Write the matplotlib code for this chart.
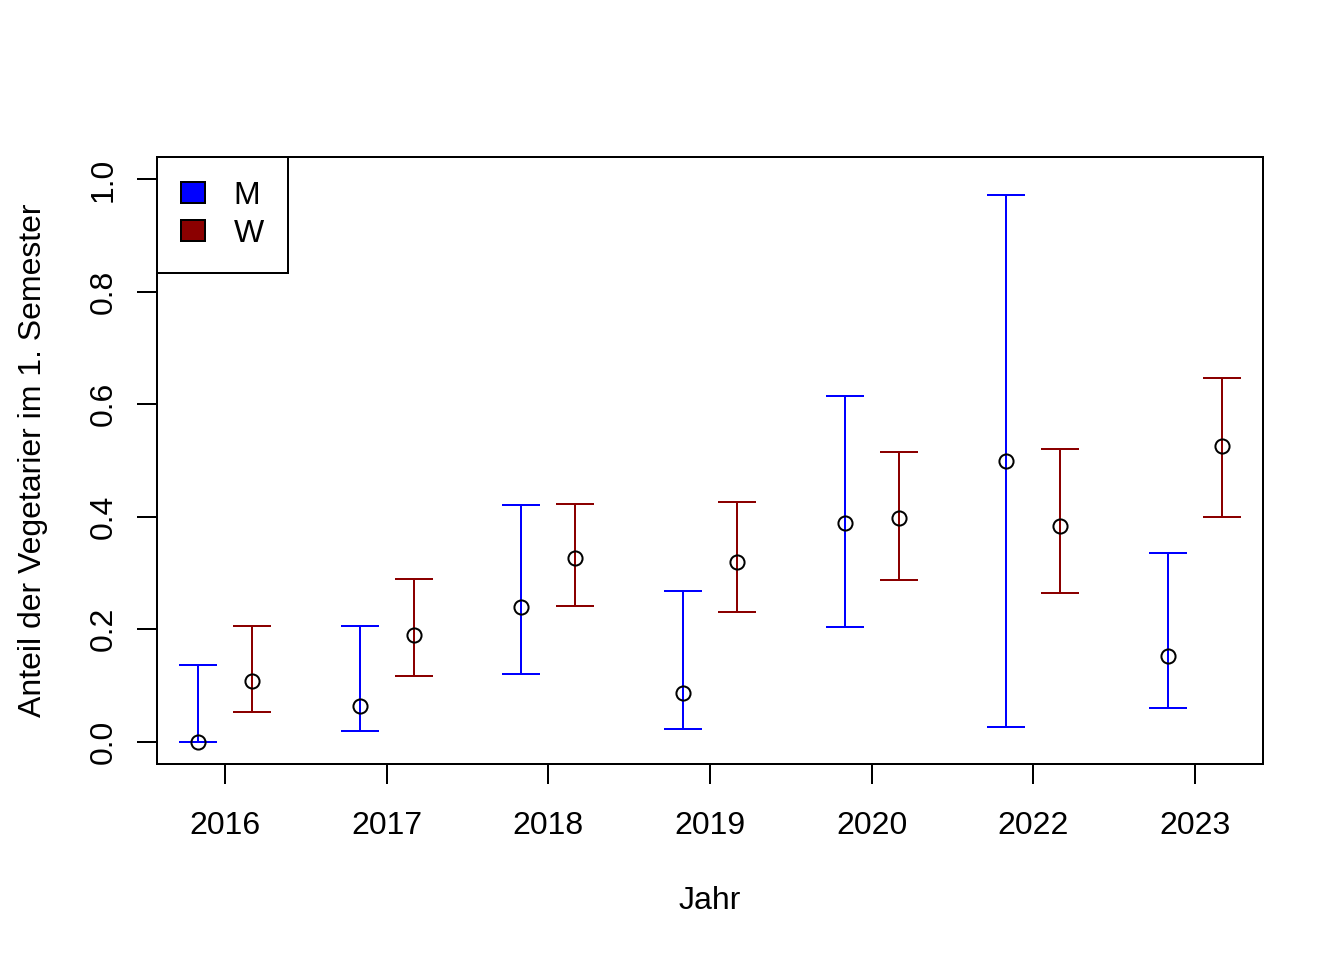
import matplotlib.pyplot as plt
from matplotlib.patches import Patch

plt.rcParams['font.family'] = ['Liberation Sans', 'DejaVu Sans']

# Jahre und Anteile (Punktschaetzer + Konfidenzintervall)
years = ['2016', '2017', '2018', '2019', '2020', '2022', '2023']

m_est = [0.000, 0.064, 0.240, 0.087, 0.388, 0.500, 0.153]
m_low = [0.000, 0.018, 0.121, 0.023, 0.203, 0.025, 0.060]
m_up = [0.137, 0.206, 0.420, 0.267, 0.614, 0.973, 0.335]

w_est = [0.107, 0.189, 0.326, 0.320, 0.397, 0.384, 0.525]
w_low = [0.053, 0.117, 0.242, 0.231, 0.288, 0.265, 0.400]
w_up = [0.206, 0.290, 0.423, 0.427, 0.516, 0.520, 0.646]

col_m = 'blue'
col_w = '#8B0000'

fig = plt.figure(figsize=(7, 5), dpi=192)
ax = fig.add_axes([157/1344, 1-764/960, (1263-157)/1344, (764-157)/960])

x = list(range(1, len(years) + 1))
off = 1/6
xm = [v - off for v in x]
xw = [v + off for v in x]

lw = 0.75
for xs, est, lo, up, c in [(xm, m_est, m_low, m_up, col_m), (xw, w_est, w_low, w_up, col_w)]:
    err = [[e - l for e, l in zip(est, lo)], [u - e for u, e in zip(up, est)]]
    ax.errorbar(xs, est, yerr=err, fmt='none', ecolor=c, elinewidth=lw,
                capsize=7.1, capthick=lw)
    ax.plot(xs, est, 'o', mfc='none', mec='black', ms=5.3, mew=lw, zorder=3)

ax.set_xlim(0.58, 7.42)
ax.set_ylim(-0.04, 1.04)
ax.set_xticks(x)
ax.set_xticklabels(years)
ax.set_yticks([0, 0.2, 0.4, 0.6, 0.8, 1.0])
ax.set_yticklabels(['0.0', '0.2', '0.4', '0.6', '0.8', '1.0'], rotation=90, va='center')
ax.tick_params(length=7.5, width=lw, labelsize=12, pad=7, colors='black')
ax.tick_params(axis='x', pad=10)
for s in ax.spines.values():
    s.set_linewidth(lw)

ax.set_xlabel('Jahr', fontsize=12, labelpad=17)
ax.set_ylabel('Anteil der Vegetarier im 1. Semester', fontsize=12, labelpad=15)

handles = [Patch(facecolor=col_m, edgecolor='black', linewidth=lw, label='M'),
           Patch(facecolor=col_w, edgecolor='black', linewidth=lw, label='W')]
leg = ax.legend(handles=handles, loc='upper left', borderaxespad=0, fancybox=False,
                framealpha=1, edgecolor='black', fontsize=12, handlelength=0.75,
                handleheight=0.62, handletextpad=0.9, labelspacing=0.25,
                borderpad=0.75)
leg.get_frame().set_linewidth(lw)

fig.savefig('out.png', dpi=192)
